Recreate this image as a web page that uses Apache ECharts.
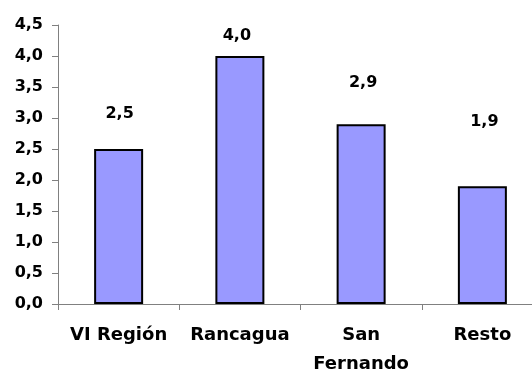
<!DOCTYPE html>
<html>
<head>
<meta charset="utf-8">
<script src="https://cdn.jsdelivr.net/npm/echarts@6/dist/echarts.min.js"></script>
<style>
  html, body { margin: 0; padding: 0; background: #ffffff; overflow: hidden; }
  #chart { width: 546px; height: 371px; }
</style>
</head>
<body>
<div id="chart"></div>
<script>
// Categories and values
const categories = ['VI Región', 'Rancagua', 'San\nFernando', 'Resto'];
const values = [2.5, 4.0, 2.9, 1.9];
const yTicks = [0, 0.5, 1, 1.5, 2, 2.5, 3, 3.5, 4, 4.5];

// Hand-placed value label nudges [dx, dy] in pixels
const labelNudges = [[1, -27], [-3, -12], [2, -33], [2, -56]];

const fmt = v => Number(v).toFixed(1).replace('.', ',');
const FONT = '"DejaVu Sans", Arial, sans-serif';

const chart = echarts.init(document.getElementById('chart'), null, { renderer: 'canvas' });

chart.setOption({
  animation: false,
  backgroundColor: '#ffffff',
  // the plot runs slightly past the visible window on the right
  grid: {
    left: 58, right: 3, top: 25, bottom: 67,
    containLabel: false,
    outerBoundsMode: 'none'
  },
  xAxis: {
    type: 'category',
    data: categories,
    axisLine: { lineStyle: { color: '#808080', width: 1 } },
    axisTick: { show: true, length: 6, lineStyle: { color: '#808080' } },
    axisLabel: {
      color: '#000',
      fontFamily: FONT,
      fontWeight: 'bold',
      fontSize: 18,
      lineHeight: 29,
      margin: 17,
      interval: 0
    }
  },
  yAxis: {
    type: 'value',
    min: yTicks[0],
    max: yTicks[yTicks.length - 1],
    interval: 0.5,
    splitLine: { show: false },
    axisLine: { show: true, lineStyle: { color: '#808080', width: 1 } },
    axisTick: { show: true, length: 6, lineStyle: { color: '#808080' } },
    axisLabel: {
      color: '#000',
      fontFamily: FONT,
      fontWeight: 'bold',
      fontSize: 16,
      margin: 15,
      formatter: fmt
    }
  },
  series: [{
    type: 'bar',
    barWidth: 49,
    data: values.map((v, i) => ({
      value: v,
      label: { offset: labelNudges[i] }
    })),
    itemStyle: { color: '#9999ff', borderColor: '#000000', borderWidth: 2 },
    label: {
      show: true,
      position: 'top',
      distance: 0,
      color: '#000',
      fontFamily: FONT,
      fontWeight: 'bold',
      fontSize: 16,
      formatter: p => fmt(p.value)
    }
  }]
});
</script>
</body>
</html>
